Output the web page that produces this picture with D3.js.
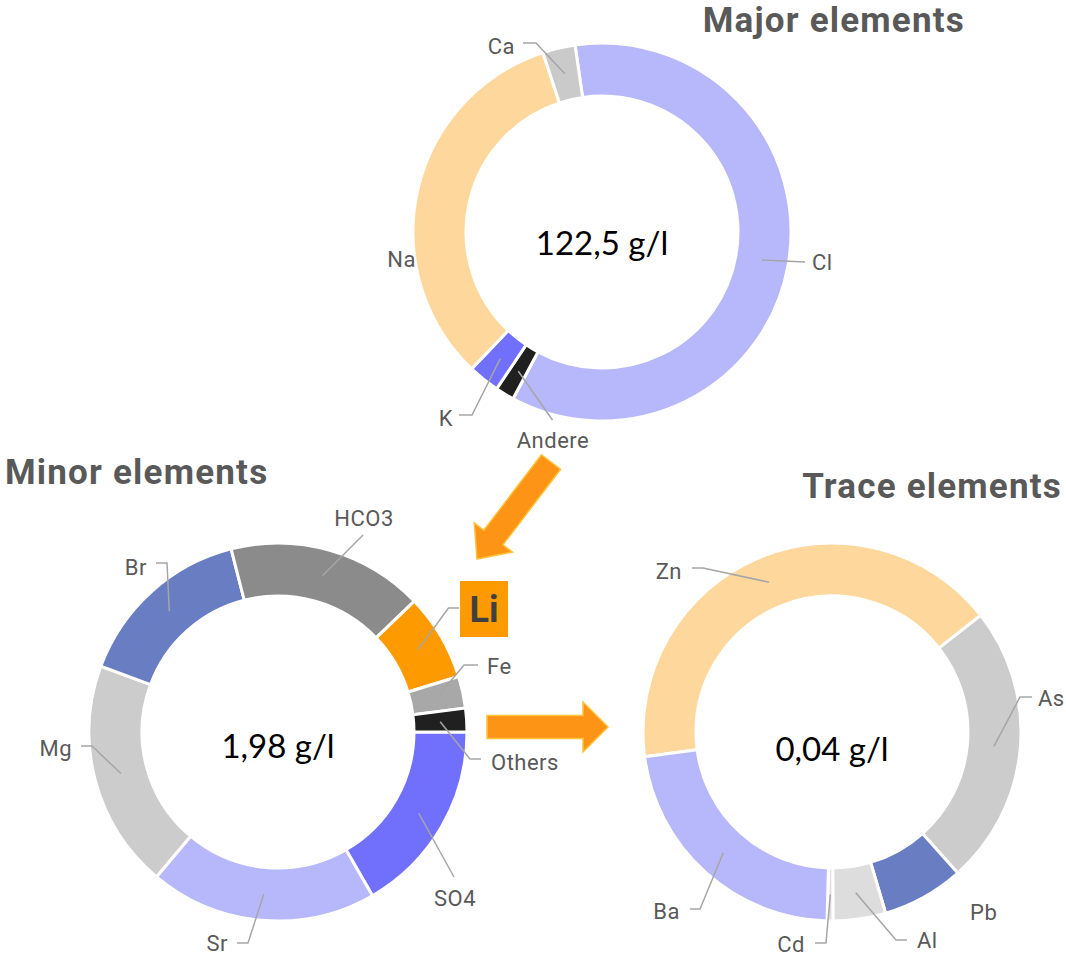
<!DOCTYPE html>
<html>
<head>
<meta charset="utf-8">
<script src="https://cdn.jsdelivr.net/npm/d3@7"></script>
<style>
  body { margin: 0; background: #fff; }
  svg { display: block; }
</style>
</head>
<body>
<svg id="chart" width="1066" height="961"></svg>
<script>
// ---- Composition of the brine (g/l) ----
const majorLabels = ["Cl", "Andere", "K", "Na", "Ca"];
const majorValues = [73.6, 1.98, 3.3, 40.2, 3.42];

const minorLabels = ["SO4", "Sr", "Mg", "Br", "HCO3", "Li", "Fe", "Others"];
const minorValues = [0.330, 0.385, 0.387, 0.304, 0.333, 0.147, 0.054, 0.040];

const traceLabels = ["Zn", "As", "Pb", "Al", "Cd", "Ba"];
const traceValues = [0.0166, 0.0096, 0.0028, 0.0018, 0.0002, 0.0090];

const titles = ["Major elements", "Minor elements", "Trace elements"];

// ---- Styling ----
const majorColors = ["#b7b8fb", "#202020", "#7070fd", "#fed79c", "#cacaca"];
const minorColors = ["#7070fd", "#b7b8fb", "#cccccc", "#687dc2", "#8b8b8b", "#fd9a00", "#a8a8a8", "#202020"];
const traceColors = ["#fed79c", "#cccccc", "#687dc2", "#dddddd", "#dddddd", "#b7b8fb"];

const textGrey = "#595959";
const leaderGrey = "#a6a6a6";
const arrowFill = "#fd9415";
const arrowEdge = "#fdc23a";

const locale = d3.formatLocale({ decimal: ",", thousands: ".", grouping: [3], currency: ["", " €"] });

const outerR = 189, innerR = 136;
const deg = Math.PI / 180;
const arc = d3.arc().innerRadius(innerR).outerRadius(outerR);

// Label placement relative to each ring centre:
// elbow/end = leader line corner points, text = label anchor point
const majorLayout = {
  Cl:     { end: [203, 30], text: [210, 30], anchor: "start" },
  Andere: { end: [-49.5, 188], text: [-49, 208], anchor: "middle" },
  K:      { elbow: [-130, 183], end: [-143, 183], text: [-149, 186], anchor: "end" },
  Na:     { text: [-186, 27], anchor: "end" },
  Ca:     { elbow: [-66, -189], end: [-79, -189], text: [-87, -186], anchor: "end" }
};
const minorLayout = {
  SO4:    { end: [176, 145], text: [177, 166], anchor: "middle" },
  Sr:     { elbow: [-30, 211], end: [-41, 211], text: [-50, 211], anchor: "end" },
  Mg:     { elbow: [-186, 14], end: [-197, 14], text: [-206, 16], anchor: "end" },
  Br:     { elbow: [-111, -169], end: [-122, -169], text: [-131, -165], anchor: "end" },
  HCO3:   { end: [85, -197], text: [86, -214], anchor: "middle" },
  Li:     { elbow: [170.5, -124], end: [181, -124], text: [206, -123], anchor: "middle", box: [182, -151, 48, 56] },
  Fe:     { elbow: [186, -67], end: [200, -67], text: [209, -66], anchor: "start" },
  Others: { elbow: [192, 27], end: [203, 27], text: [213, 30], anchor: "start" }
};
const traceLayout = {
  Zn: { elbow: [-129, -164], end: [-140, -164], text: [-150, -161], anchor: "end" },
  As: { elbow: [188, -35], end: [200, -35], text: [206, -34], anchor: "start" },
  Pb: { text: [138, 180], anchor: "start" },
  Al: { elbow: [64, 208], end: [75, 208], text: [85, 208], anchor: "start" },
  Cd: { elbow: [-6, 211], end: [-17, 211], text: [-27, 212], anchor: "end" },
  Ba: { elbow: [-132, 177], end: [-142, 177], text: [-152, 179], anchor: "end" }
};

const rings = [
  { title: titles[0], labels: majorLabels, values: majorValues, colors: majorColors, layout: majorLayout,
    cx: 602, cy: 232, start: -8.2, fmt: ".1f", totalDy: 23,
    titlePos: [965, 32], titleAnchor: "end" },
  { title: titles[1], labels: minorLabels, values: minorValues, colors: minorColors, layout: minorLayout,
    cx: 278, cy: 732, start: 90, fmt: ".2f", totalDy: 26,
    titlePos: [5, 484], titleAnchor: "start" },
  { title: titles[2], labels: traceLabels, values: traceValues, colors: traceColors, layout: traceLayout,
    cx: 832, cy: 732, start: -97.5, fmt: ".2f", totalDy: 29,
    titlePos: [1062, 498], titleAnchor: "end" }
];

const svg = d3.select("#chart");

// Arrows: tail point, tip point, shaft width, head width, head length
function arrowPath(x0, y0, x1, y1, shaft, head, headLen) {
  const L = Math.hypot(x1 - x0, y1 - y0);
  const ux = (x1 - x0) / L, uy = (y1 - y0) / L;
  const nx = -uy, ny = ux;
  const bx = x1 - ux * headLen, by = y1 - uy * headLen;
  const p = d3.path();
  p.moveTo(x0 + nx * shaft / 2, y0 + ny * shaft / 2);
  p.lineTo(bx + nx * shaft / 2, by + ny * shaft / 2);
  p.lineTo(bx + nx * head / 2, by + ny * head / 2);
  p.lineTo(x1, y1);
  p.lineTo(bx - nx * head / 2, by - ny * head / 2);
  p.lineTo(bx - nx * shaft / 2, by - ny * shaft / 2);
  p.lineTo(x0 - nx * shaft / 2, y0 - ny * shaft / 2);
  p.closePath();
  return p.toString();
}

rings.forEach(ring => {
  const data = ring.labels.map((name, i) => ({ name, value: ring.values[i], color: ring.colors[i] }));
  const pie = d3.pie().sort(null).value(d => d.value)
    .startAngle(ring.start * deg).endAngle(ring.start * deg + 2 * Math.PI);
  const arcs = pie(data);

  const g = svg.append("g").attr("transform", `translate(${ring.cx},${ring.cy})`);

  g.selectAll("path.slice").data(arcs).join("path")
    .attr("class", "slice")
    .attr("d", arc)
    .attr("fill", d => d.data.color)
    .attr("stroke", "#fff")
    .attr("stroke-width", 3)
    .attr("stroke-linejoin", "miter");

  // leader lines
  arcs.forEach(a => {
    const lay = ring.layout[a.data.name];
    if (!lay.end) return;
    const pts = [arc.centroid(a)];
    if (lay.elbow) pts.push(lay.elbow);
    pts.push(lay.end);
    g.append("path")
      .attr("d", d3.line()(pts))
      .attr("fill", "none")
      .attr("stroke", leaderGrey)
      .attr("stroke-width", 1.5);
  });

  // labels
  arcs.forEach(a => {
    const lay = ring.layout[a.data.name];
    if (lay.box) {
      g.append("rect")
        .attr("x", lay.box[0]).attr("y", lay.box[1])
        .attr("width", lay.box[2]).attr("height", lay.box[3])
        .attr("fill", a.data.color);
      g.append("text")
        .attr("x", lay.text[0]).attr("y", lay.text[1])
        .attr("dy", "0.36em")
        .attr("text-anchor", "middle")
        .attr("font-family", "Roboto, 'Noto Sans', sans-serif")
        .attr("font-weight", 700)
        .attr("font-size", 36)
        .attr("fill", "#404040")
        .text(a.data.name);
    } else {
      g.append("text")
        .attr("x", lay.text[0]).attr("y", lay.text[1])
        .attr("dy", "0.35em")
        .attr("text-anchor", lay.anchor)
        .attr("font-family", "Roboto, 'Noto Sans', sans-serif")
        .attr("font-weight", 400)
        .attr("font-size", 22)
        .attr("letter-spacing", 0.5)
        .attr("fill", textGrey)
        .text(a.data.name);
    }
  });

  // total in the middle
  g.append("text")
    .attr("x", 0).attr("y", ring.totalDy)
    .attr("text-anchor", "middle")
    .attr("font-family", "Lato, 'Open Sans', sans-serif")
    .attr("font-size", 33)
    .attr("fill", "#000")
    .text(locale.format(ring.fmt)(d3.sum(ring.values)) + " g/l");

  // title
  svg.append("text")
    .attr("x", ring.titlePos[0]).attr("y", ring.titlePos[1])
    .attr("text-anchor", ring.titleAnchor)
    .attr("font-family", "Roboto, 'Noto Sans', sans-serif")
    .attr("font-weight", 700)
    .attr("font-size", 35)
    .attr("letter-spacing", 1.2)
    .attr("fill", textGrey)
    .text(ring.title);
});

// arrows linking the rings
svg.append("path")
  .attr("d", arrowPath(551, 462, 477, 559, 24, 48, 27))
  .attr("fill", arrowFill).attr("stroke", arrowEdge).attr("stroke-width", 1.5);
svg.append("path")
  .attr("d", arrowPath(487, 727, 608, 727, 23, 50, 25))
  .attr("fill", arrowFill).attr("stroke", arrowEdge).attr("stroke-width", 1.5);
</script>
</body>
</html>
